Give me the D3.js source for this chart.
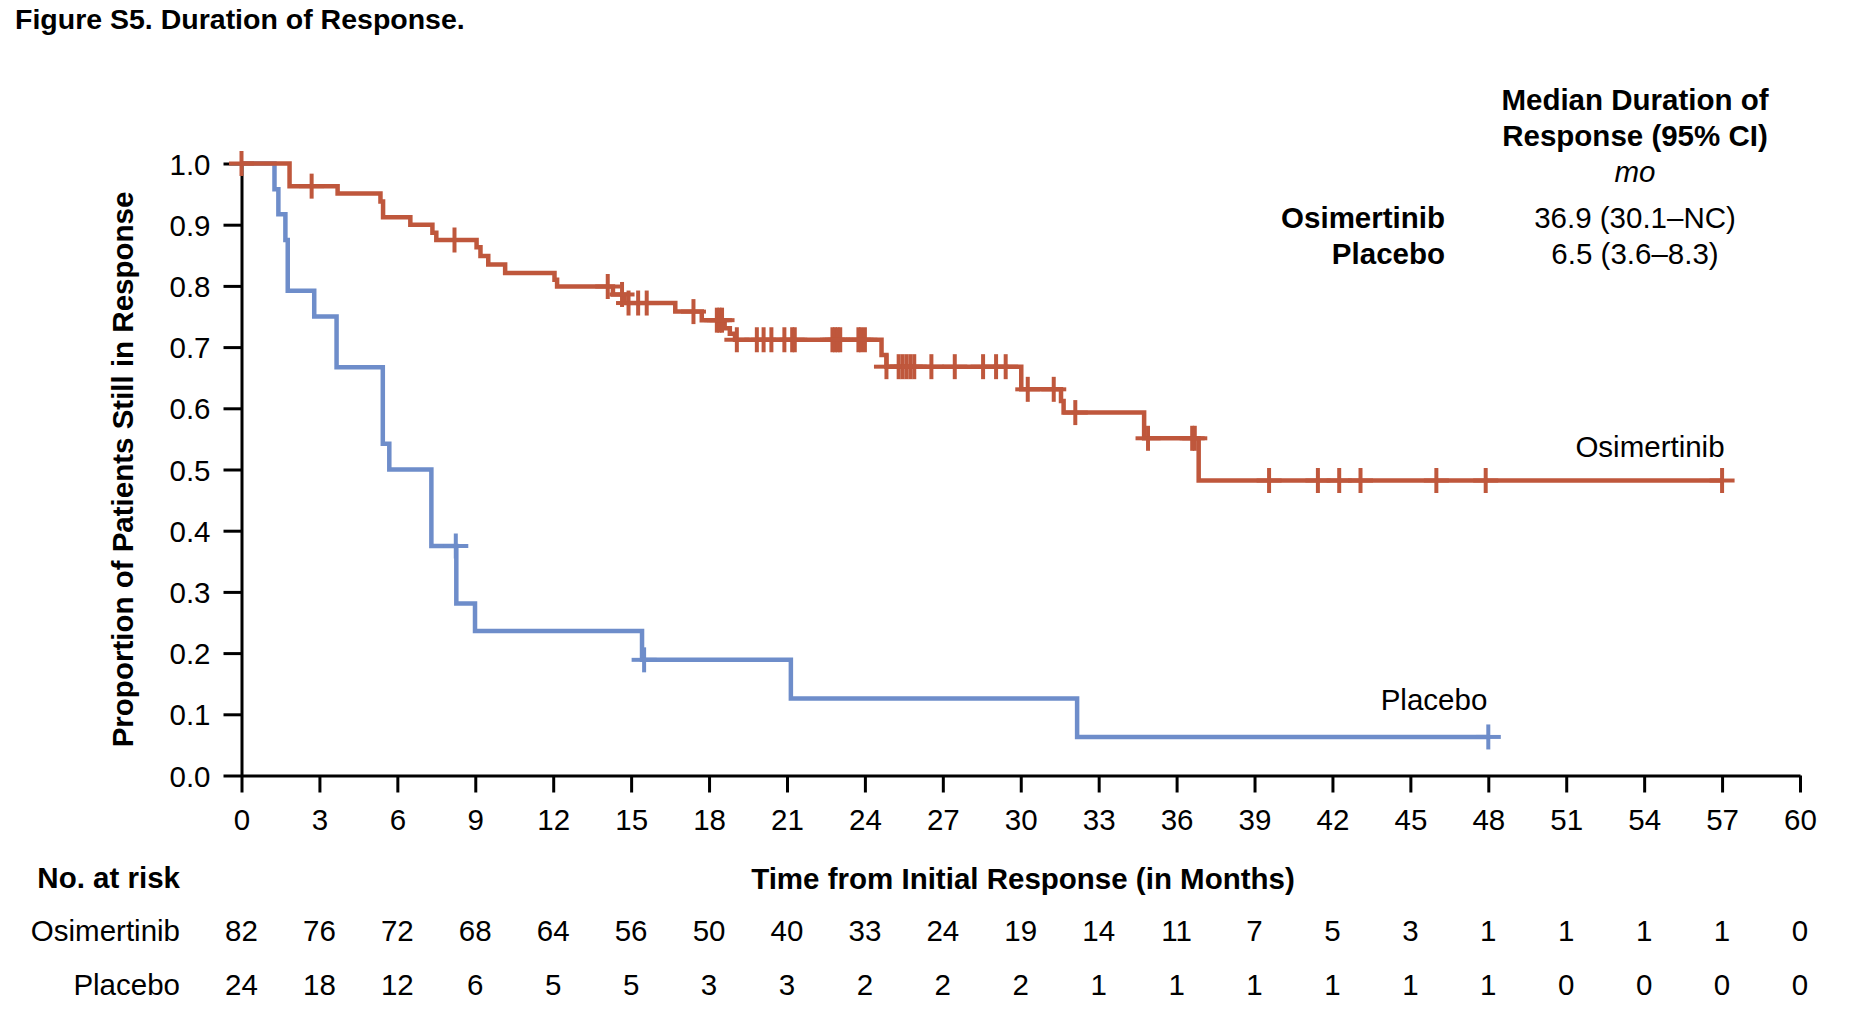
<!DOCTYPE html>
<html>
<head>
<meta charset="utf-8">
<script src="https://cdn.jsdelivr.net/npm/d3@7"></script>
<style>
  html, body { margin: 0; padding: 0; background: #fff; }
  svg { display: block; }
  text { font-family: "Liberation Sans", Arial, sans-serif; fill: #000; }
</style>
</head>
<body>
<svg id="chart" width="1854" height="1024"></svg>
<script>
// ---------------- Data ----------------
const osiEventTimes = [1.85, 3.7, 5.35, 5.45, 6.5, 7.35, 7.5, 9.05, 9.2, 9.5, 10.15, 12.05, 12.15, 14.3, 14.75, 16.7, 17.72, 18.6, 18.8, 19.0, 24.64, 24.83, 30.02, 31.55, 31.65, 34.75, 36.85];
const osiEventSurv  = [0.963, 0.951, 0.938, 0.912, 0.900, 0.887, 0.875, 0.863, 0.849, 0.835, 0.821, 0.810, 0.799, 0.786, 0.772, 0.758, 0.744, 0.731, 0.722, 0.712, 0.687, 0.668, 0.631, 0.612, 0.593, 0.551, 0.482];
const osiCensorTimes = [0, 2.7, 8.2, 14.1, 14.65, 14.9, 15.27, 15.6, 17.4, 18.3, 18.4, 18.5, 19.07, 19.84, 20.1, 20.4, 20.9, 21.2, 21.3, 22.75, 22.85, 22.95, 23.05, 23.75, 23.85, 24.0, 24.83, 25.3, 25.45, 25.6, 25.75, 25.9, 26.56, 27.46, 28.55, 29.05, 29.42, 30.27, 31.27, 32.1, 34.9, 36.6, 36.7, 39.56, 41.44, 42.26, 43.08, 46.0, 47.9, 57.0];

const pboEventTimes = [1.27, 1.42, 1.69, 1.78, 2.8, 3.66, 5.44, 5.69, 7.31, 8.27, 8.99, 15.42, 21.15, 32.17];
const pboEventSurv  = [0.958, 0.917, 0.875, 0.792, 0.750, 0.667, 0.542, 0.500, 0.375, 0.281, 0.236, 0.189, 0.126, 0.063];
const pboCensorTimes = [8.25, 15.5, 48.0];

const xTicks = d3.range(0, 61, 3);
const yTicks = [0, 0.1, 0.2, 0.3, 0.4, 0.5, 0.6, 0.7, 0.8, 0.9, 1.0];

const riskTimes = d3.range(0, 61, 3);
const osiAtRisk = [82, 76, 72, 68, 64, 56, 50, 40, 33, 24, 19, 14, 11, 7, 5, 3, 1, 1, 1, 1, 0];
const pboAtRisk = [24, 18, 12, 6, 5, 5, 3, 3, 2, 2, 2, 1, 1, 1, 1, 1, 1, 0, 0, 0, 0];

const groupNames = ["Osimertinib", "Placebo"];
const medianText = ["36.9 (30.1\u2013NC)", "6.5 (3.6\u20138.3)"];

// ---------------- Layout ----------------
const svg = d3.select("#chart");
const X0 = 241.5, X1 = 1800, Y0 = 775.5, Y1 = 163.5;
const x = d3.scaleLinear().domain([0, 60]).range([X0, X1]);
const y = d3.scaleLinear().domain([0, 1]).range([Y0, Y1]);

const colOsi = "#BF573C";
const colPbo = "#6E8DCA";
const FS = 29.5;

// Title
svg.append("text").attr("x", 15).attr("y", 29)
  .attr("font-size", 28.5).attr("font-weight", "bold")
  .text("Figure S5. Duration of Response.");

// Axes
const yAxis = d3.axisLeft(y).tickValues(yTicks).tickFormat(d3.format(".1f"))
  .tickSize(18).tickSizeOuter(0).tickPadding(13);
const gy = svg.append("g").attr("transform", `translate(${X0},0)`).call(yAxis);

const xAxis = d3.axisBottom(x).tickValues(xTicks).tickFormat(d3.format("d"))
  .tickSize(17).tickSizeOuter(0).tickPadding(17);
const gx = svg.append("g").attr("transform", `translate(0,${Y0})`).call(xAxis);

[gx, gy].forEach(g => {
  g.select(".domain").attr("stroke", "#000").attr("stroke-width", 3);
  g.selectAll(".tick line").attr("stroke", "#000").attr("stroke-width", 3);
  g.selectAll(".tick text").attr("font-size", FS).attr("fill", "#000")
    .attr("font-family", "Liberation Sans, Arial, sans-serif");
});
gy.selectAll(".tick text").attr("dy", "0.36em");

// Axis titles
svg.append("text")
  .attr("transform", `translate(122,${(Y0 + Y1) / 2}) rotate(-90)`)
  .attr("text-anchor", "middle").attr("dominant-baseline", "central")
  .attr("font-size", FS).attr("font-weight", "bold")
  .text("Proportion of Patients Still in Response");

svg.append("text").attr("x", 1023).attr("y", 889)
  .attr("text-anchor", "middle").attr("font-size", FS).attr("font-weight", "bold")
  .text("Time from Initial Response (in Months)");

// ---------------- Curves ----------------
function stepPoints(times, surv, endT) {
  const pts = [[0, 1]];
  times.forEach((t, i) => pts.push([t, surv[i]]));
  pts.push([endT, surv[surv.length - 1]]);
  return pts;
}
function survAt(times, surv, t) {
  let s = 1;
  for (let i = 0; i < times.length; i++) if (times[i] <= t) s = surv[i];
  return s;
}

const line = d3.line().x(d => x(d[0])).y(d => y(d[1])).curve(d3.curveStepAfter);

function drawGroup(times, surv, censors, color) {
  const endT = d3.max(censors.concat(times));
  svg.append("path").datum(stepPoints(times, surv, endT))
    .attr("d", line).attr("fill", "none")
    .attr("stroke", color).attr("stroke-width", 4.5)
    .attr("stroke-linejoin", "miter").attr("stroke-linecap", "butt");
  const arm = 12.5;
  const g = svg.append("g").attr("stroke", color).attr("stroke-width", 4);
  censors.forEach(t => {
    const cx = x(t), cy = y(survAt(times, surv, t));
    g.append("line").attr("x1", cx).attr("x2", cx).attr("y1", cy - arm).attr("y2", cy + arm);
    g.append("line").attr("x1", cx - arm).attr("x2", cx + arm).attr("y1", cy).attr("y2", cy);
  });
}
drawGroup(pboEventTimes, pboEventSurv, pboCensorTimes, colPbo);
drawGroup(osiEventTimes, osiEventSurv, osiCensorTimes, colOsi);

// Curve labels
svg.append("text").attr("x", 1650).attr("y", 457).attr("text-anchor", "middle")
  .attr("font-size", FS).text(groupNames[0]);
svg.append("text").attr("x", 1434).attr("y", 710).attr("text-anchor", "middle")
  .attr("font-size", FS).text(groupNames[1]);

// ---------------- Median annotation ----------------
const annX = 1635;
svg.append("text").attr("x", annX).attr("y", 110).attr("text-anchor", "middle")
  .attr("font-size", FS).attr("font-weight", "bold").text("Median Duration of");
svg.append("text").attr("x", annX).attr("y", 146).attr("text-anchor", "middle")
  .attr("font-size", FS).attr("font-weight", "bold").text("Response (95% CI)");
svg.append("text").attr("x", annX).attr("y", 182).attr("text-anchor", "middle")
  .attr("font-size", FS).attr("font-style", "italic").text("mo");
groupNames.forEach((n, i) => {
  svg.append("text").attr("x", 1445).attr("y", 228 + i * 36).attr("text-anchor", "end")
    .attr("font-size", FS).attr("font-weight", "bold").text(n);
  svg.append("text").attr("x", annX).attr("y", 228 + i * 36).attr("text-anchor", "middle")
    .attr("font-size", FS).text(medianText[i]);
});

// ---------------- Risk table ----------------
svg.append("text").attr("x", 180).attr("y", 888).attr("text-anchor", "end")
  .attr("font-size", FS).attr("font-weight", "bold").text("No. at risk");
[osiAtRisk, pboAtRisk].forEach((row, r) => {
  const yy = 941 + r * 54;
  svg.append("text").attr("x", 180).attr("y", yy).attr("text-anchor", "end")
    .attr("font-size", FS).text(groupNames[r]);
  svg.append("g").selectAll("text").data(row).join("text")
    .attr("x", (d, i) => x(riskTimes[i])).attr("y", yy)
    .attr("text-anchor", "middle").attr("font-size", FS).text(d => d);
});
</script>
</body>
</html>
